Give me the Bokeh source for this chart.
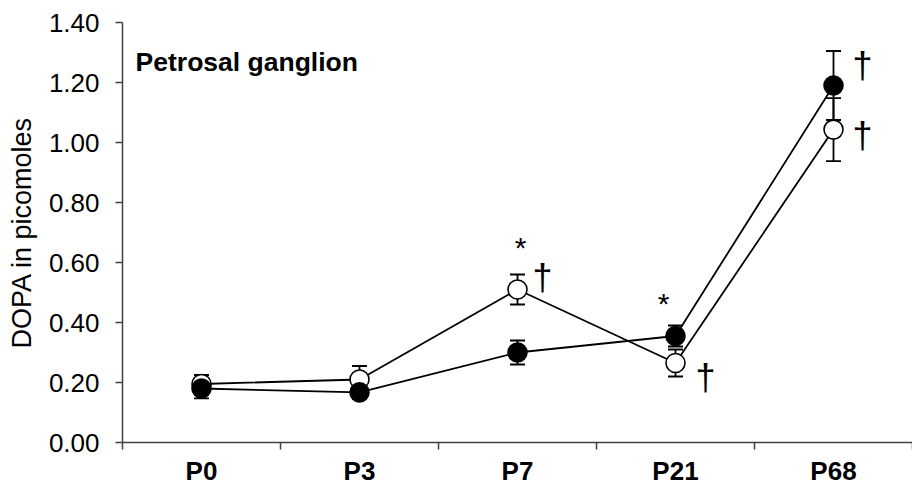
from bokeh.plotting import figure
from bokeh.models import Range1d, FixedTicker, PrintfTickFormatter, Whisker, ColumnDataSource, TeeHead, Label
from bokeh.core.properties import value
from bokeh.embed import file_html
from bokeh.resources import INLINE

# ---- data ----
categories = ["P0", "P3", "P7", "P21", "P68"]
filled_mean = [0.180, 0.167, 0.300, 0.355, 1.190]
filled_err = [0.033, 0.015, 0.040, 0.035, 0.115]
open_mean = [0.195, 0.210, 0.510, 0.265, 1.043]
open_err = [0.030, 0.045, 0.050, 0.045, 0.105]
y_ticks = [0.0, 0.2, 0.4, 0.6, 0.8, 1.0, 1.2, 1.4]
title_text = "Petrosal ganglion"
y_label = "DOPA in picomoles"

ann_text = ["*", "\u2020", "*", "\u2020", "\u2020", "\u2020"]
ann_cat = [2, 2, 3, 3, 4, 4]
ann_y = [0.65, 0.55, 0.463, 0.217, 1.257, 1.023]
ann_dx = [3, 25, -12, 30, 29, 29]

xc = [i + 0.5 for i in range(len(categories))]

p = figure(width=912, height=488, output_backend="svg", toolbar_location=None,
           x_range=Range1d(0, len(categories)), y_range=Range1d(0, 1.4),
           min_border_left=122, min_border_right=0, min_border_top=22, min_border_bottom=46)
p.outline_line_color = None
p.xgrid.grid_line_color = None
p.ygrid.grid_line_color = None
p.background_fill_color = "white"

FONT = "Liberation Sans"

# axes
p.yaxis.ticker = FixedTicker(ticks=y_ticks, minor_ticks=[])
p.yaxis.formatter = PrintfTickFormatter(format="%.2f")
p.yaxis.major_label_text_font = FONT
p.yaxis.major_label_text_font_size = "26px"
p.yaxis.major_label_text_color = "black"
p.yaxis.major_label_standoff = 16
p.yaxis.major_tick_in = 0
p.yaxis.major_tick_out = 7
p.yaxis.axis_label = y_label
p.yaxis.axis_label_text_font = FONT
p.yaxis.axis_label_text_font_size = "27px"
p.yaxis.axis_label_text_font_style = "normal"
p.yaxis.axis_label_text_color = "black"
p.yaxis.axis_label_standoff = 9

p.xaxis.ticker = FixedTicker(ticks=xc, minor_ticks=list(range(len(categories) + 1)))
p.xaxis.major_label_overrides = {x: c for x, c in zip(xc, categories)}
p.xaxis.major_label_text_font = FONT
p.xaxis.major_label_text_font_size = "26px"
p.xaxis.major_label_text_font_style = "bold"
p.xaxis.major_label_text_color = "black"
p.xaxis.major_tick_in = 0
p.xaxis.major_tick_out = 0
p.xaxis.minor_tick_in = 0
p.xaxis.minor_tick_out = 7
p.xaxis.major_label_standoff = 6

for ax in (p.xaxis, p.yaxis):
    ax.axis_line_color = "#404040"
    ax.axis_line_width = 1.5
    ax.major_tick_line_color = "#404040"
    ax.major_tick_line_width = 1.5
    ax.minor_tick_line_color = "#404040"
    ax.minor_tick_line_width = 1.5

# error bars
for mean, err in ((open_mean, open_err), (filled_mean, filled_err)):
    src = ColumnDataSource(dict(x=xc, lo=[m - e for m, e in zip(mean, err)],
                                hi=[m + e for m, e in zip(mean, err)]))
    w = Whisker(source=src, base="x", lower="lo", upper="hi", dimension="height",
                line_color="black", line_width=1.8, level="underlay",
                lower_head=TeeHead(size=15, line_width=1.8, line_color="black"),
                upper_head=TeeHead(size=15, line_width=1.8, line_color="black"))
    p.add_layout(w)

# lines
p.line(xc, open_mean, line_color="black", line_width=1.8)
p.line(xc, filled_mean, line_color="black", line_width=1.8)

# markers
p.scatter(xc, open_mean, size=19, marker="circle", fill_color="white", line_color="black", line_width=1.6)
p.scatter(xc, filled_mean, size=19, marker="circle", fill_color="black", line_color="black", line_width=1.6)

# significance marks
for t, c, y, dx in zip(ann_text, ann_cat, ann_y, ann_dx):
    is_star = t == "*"
    p.add_layout(Label(x=xc[c], y=y, x_offset=dx, text=t, text_align="center",
                       text_baseline="middle", text_font=FONT,
                       text_font_size="30px" if is_star else "36px", text_color="black"))

p.add_layout(Label(x=0.083, y=1.27, text=title_text, text_align="left", text_baseline="middle",
                   text_font=FONT, text_font_size="26.5px", text_font_style="bold", text_color="black"))

open("out.html", "w").write(file_html(p, INLINE))
